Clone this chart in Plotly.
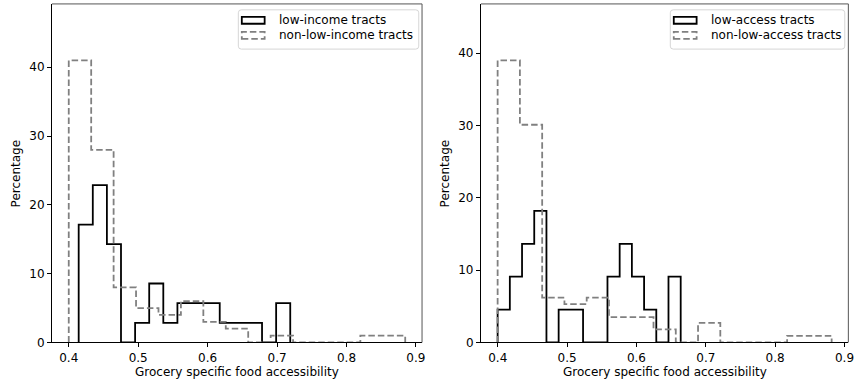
import numpy as np
import plotly.graph_objects as go

# ---- Data: percentage of tracts per histogram bin (15 bins per group) ----
# Left panel: split by income
income_low_pct = [17.14, 22.86, 14.29, 0, 2.86, 8.57, 2.86, 5.71, 5.71, 5.71, 2.86, 2.86, 2.86, 0, 5.71]
income_low_range = (0.4143, 0.7190)
income_other_pct = [41, 28, 8, 5, 4, 6, 3, 2, 0, 1, 0, 0, 0, 1, 1]
income_other_range = (0.4000, 0.8846)

# Right panel: split by access
access_low_pct = [4.55, 9.09, 13.64, 18.18, 0, 4.55, 4.55, 0, 0, 9.09, 13.64, 9.09, 4.55, 0, 9.09]
access_low_range = (0.3998, 0.6638)
access_other_pct = [39.0, 30.1, 6.2, 5.3, 6.2, 3.5, 3.5, 1.8, 0, 2.7, 0, 0, 0, 0.9, 0.9]
access_other_range = (0.3998, 0.8815)

income_labels = ["low-income tracts", "non-low-income tracts"]
access_labels = ["low-access tracts", "non-low-access tracts"]

x_ticks = [0.4, 0.5, 0.6, 0.7, 0.8, 0.9]
y_ticks = [0, 10, 20, 30, 40]
x_title = "Grocery specific food accessibility"
y_title = "Percentage"

W, H = 862, 392
FONT = "DejaVu Sans"
FS = 12
SOLID = dict(color="black", width=1.8)
DASHED = dict(color="#808080", width=1.8, dash="6.5px,3px")


def px(x):
    return x / W


def py(y):
    return 1 - y / H


def step_outline(pct, rng):
    """Unfilled step-histogram outline from bin values and data range."""
    edges = np.linspace(rng[0], rng[1], len(pct) + 1)
    xs = np.repeat(edges, 2)
    ys = np.concatenate([[0], np.repeat(pct, 2), [0]])
    return xs, ys


def x_limits(*ranges):
    lo = min(r[0] for r in ranges)
    hi = max(r[1] for r in ranges)
    m = 0.05 * (hi - lo)
    return [lo - m, hi + m]


fig = go.Figure()

panels = [
    dict(xa="x", ya="y", low=(income_low_pct, income_low_range),
         other=(income_other_pct, income_other_range), labels=income_labels,
         dom=(52.3, 425.0), legend_box=(240.0, 421.7)),
    dict(xa="x2", ya="y2", low=(access_low_pct, access_low_range),
         other=(access_other_pct, access_other_range), labels=access_labels,
         dom=(484.3, 854.3), legend_box=(675.0, 850.7)),
]

top_px, bot_px = 4.0, 348.7
shapes = []
annotations = []

for i, p in enumerate(panels):
    for (pct, rng), style, name in [(p["low"], SOLID, p["labels"][0]),
                                     (p["other"], DASHED, p["labels"][1])]:
        xs, ys = step_outline(pct, rng)
        fig.add_trace(go.Scatter(x=xs, y=ys, mode="lines", line=style, name=name,
                                 xaxis=p["xa"], yaxis=p["ya"], showlegend=False,
                                 hoverinfo="skip"))

    suffix = "" if i == 0 else "2"
    xr = x_limits(p["low"][1], p["other"][1])
    ymax = 1.2 * max(max(p["low"][0]), max(p["other"][0]))
    axis_common = dict(showgrid=False, zeroline=False, showline=True, linecolor="black",
                       linewidth=1, ticks="outside", ticklen=4, tickwidth=1,
                       tickcolor="black", tickfont=dict(family=FONT, size=FS, color="black"))
    fig.update_layout(**{
        "xaxis" + suffix: dict(domain=[px(p["dom"][0]), px(p["dom"][1])], range=xr,
                               tickvals=x_ticks, ticktext=[f"{t:.1f}" for t in x_ticks],
                               anchor="y" + suffix, **axis_common),
        "yaxis" + suffix: dict(domain=[py(bot_px), py(top_px)], range=[0, ymax],
                               tickvals=y_ticks, anchor="x" + suffix, **axis_common),
    })

    # top and right spines
    x0, x1 = px(p["dom"][0]), px(p["dom"][1])
    y0, y1 = py(bot_px), py(top_px)
    shapes.append(dict(type="line", xref="paper", yref="paper", x0=x0, x1=x1, y0=y1, y1=y1,
                       line=dict(color="#555555", width=1)))
    shapes.append(dict(type="line", xref="paper", yref="paper", x0=x1, x1=x1, y0=y0, y1=y1,
                       line=dict(color="#555555", width=1)))

    # axis titles
    xc = (p["dom"][0] + p["dom"][1]) / 2
    annotations.append(dict(text=x_title, xref="paper", yref="paper", x=px(xc), y=py(379),
                            xanchor="center", yanchor="middle", showarrow=False,
                            font=dict(family=FONT, size=FS, color="black")))
    annotations.append(dict(text=y_title, xref="paper", yref="paper", x=px(p["dom"][0] - 36),
                            y=py((top_px + bot_px) / 2), xanchor="center", yanchor="middle",
                            textangle=-90, showarrow=False,
                            font=dict(family=FONT, size=FS, color="black")))

    # legend frame with rounded corners
    bl, br = p["legend_box"]
    bt, bb = 10.0, 50.0
    r = 3.0
    path = (f"M {px(bl + r)},{py(bt)} L {px(br - r)},{py(bt)} "
            f"Q {px(br)},{py(bt)} {px(br)},{py(bt + r)} L {px(br)},{py(bb - r)} "
            f"Q {px(br)},{py(bb)} {px(br - r)},{py(bb)} L {px(bl + r)},{py(bb)} "
            f"Q {px(bl)},{py(bb)} {px(bl)},{py(bb - r)} L {px(bl)},{py(bt + r)} "
            f"Q {px(bl)},{py(bt)} {px(bl + r)},{py(bt)} Z")
    shapes.append(dict(type="path", xref="paper", yref="paper", path=path,
                       fillcolor="rgba(255,255,255,0.8)", line=dict(color="#d6d6d6", width=1)))
    for row, (style, label) in enumerate([(SOLID, p["labels"][0]), (DASHED, p["labels"][1])]):
        cy = 20.7 + row * 15.3
        hx0, hx1 = bl + 3.5, bl + 26.5
        shapes.append(dict(type="rect", xref="paper", yref="paper",
                           x0=px(hx0), x1=px(hx1), y0=py(cy + 3.5), y1=py(cy - 3.5),
                           line=style, fillcolor="rgba(0,0,0,0)"))
        annotations.append(dict(text=label, xref="paper", yref="paper", x=px(bl + 38.5),
                                y=py(cy), xanchor="left", yanchor="middle", showarrow=False,
                                font=dict(family=FONT, size=FS, color="black")))

fig.update_layout(width=W, height=H, margin=dict(l=0, r=0, t=0, b=0),
                  paper_bgcolor="white", plot_bgcolor="white",
                  shapes=shapes, annotations=annotations, showlegend=False)

fig.write_html("out.html")
